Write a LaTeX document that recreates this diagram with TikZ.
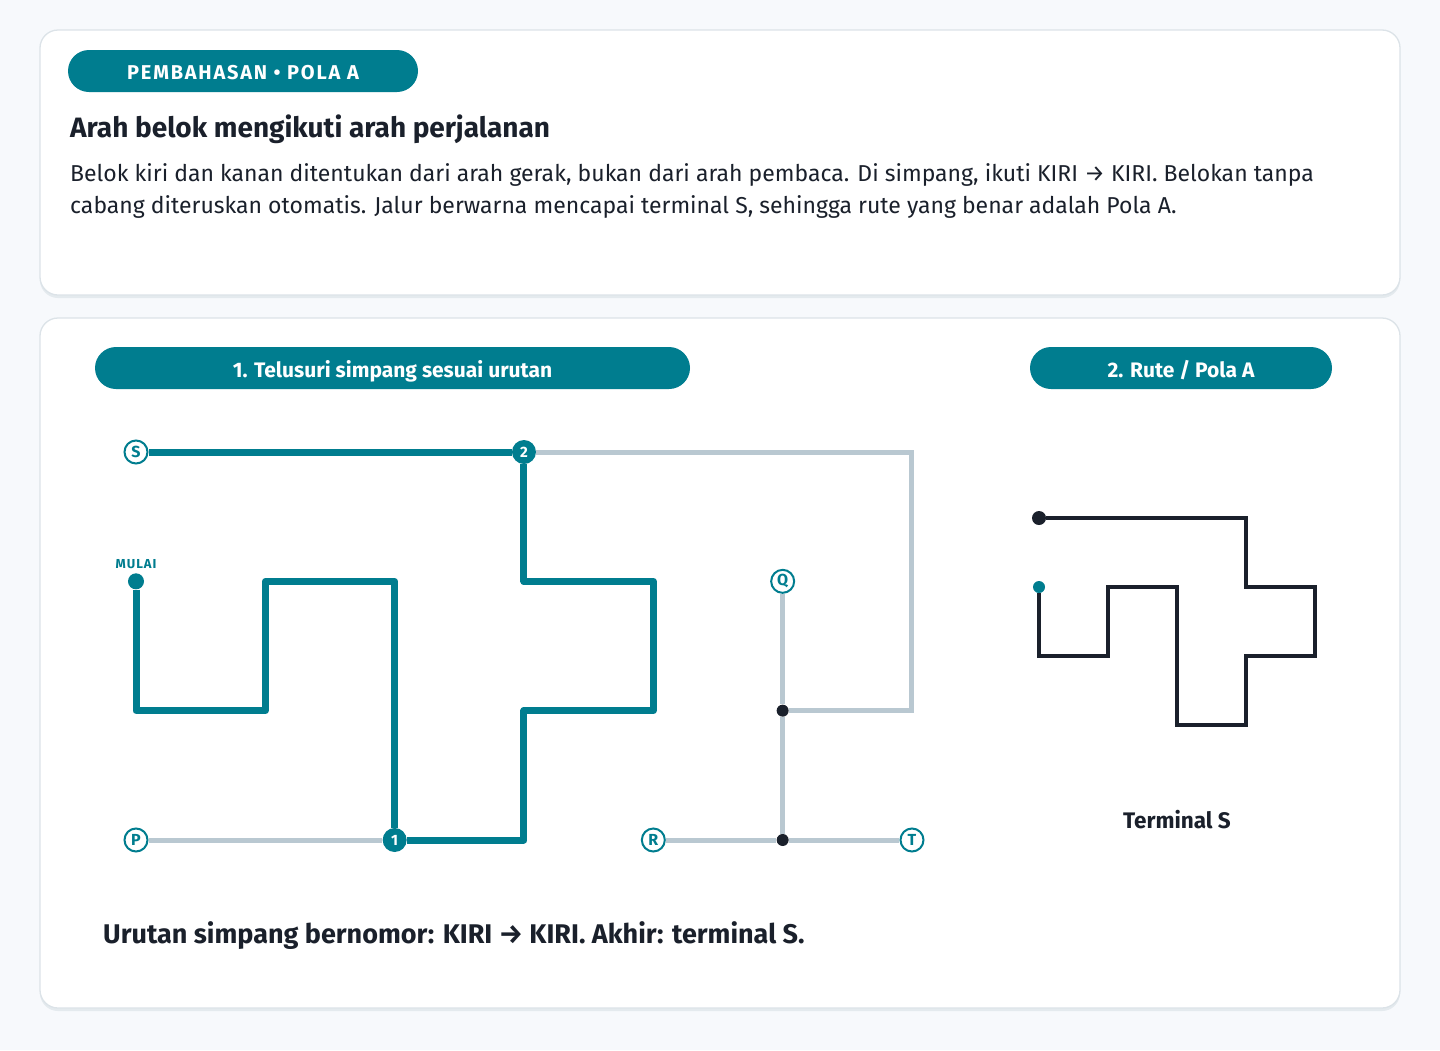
\documentclass[tikz,border=0pt]{standalone}
\usepackage{fontspec}
\setmainfont{Fira Sans}
\newfontfamily\badgefont[LetterSpace=9]{Fira Sans}
\newfontfamily\tagfont[LetterSpace=8]{Fira Sans}
\usepackage{tikz}
\usetikzlibrary{positioning}
\usepackage{xcolor}
\definecolor{routeteal}{HTML}{007D8F}
\definecolor{pathgray}{HTML}{B9C8D1}
\definecolor{inkdark}{HTML}{1A202B}
\definecolor{pagebg}{HTML}{F7F9FC}
\definecolor{cardline}{HTML}{DCE3E8}
\definecolor{cardshade}{HTML}{E4EAEE}

\begin{document}
\begin{tikzpicture}[x=1pt,y=-1pt,
  card/.style={draw=cardline,line width=1.3pt,fill=white,rounded corners=18pt},
  shade/.style={fill=cardshade,rounded corners=18pt},
  pill/.style={fill=routeteal,text=white,rounded corners=21pt,minimum height=42pt,inner sep=0pt,text height=19.5pt,text depth=0pt,font=\bfseries\fontsize{21}{21}\selectfont},
  prose/.style={anchor=base west,inner sep=0pt,text=inkdark},
  term/.style={circle,draw=routeteal,line width=2pt,fill=white,text=routeteal,inner sep=0pt,minimum size=23pt,font=\bfseries\fontsize{16}{16}\selectfont},
  junc/.style={circle,fill=routeteal,text=white,inner sep=0pt,minimum size=24pt,font=\bfseries\fontsize{15}{15}\selectfont},
  joint/.style={circle,fill=inkdark,inner sep=0pt,minimum size=12pt},
  route/.style={routeteal,line width=7pt,line join=round},
  spare/.style={pathgray,line width=5pt},
  mini/.style={inkdark,line width=3.2pt,line join=miter}]
\fill[pagebg] (0,0) rectangle (1440,1050);
\useasboundingbox (0,0) rectangle (1440,1050);
\fill[shade] (40,33) rectangle (1400,298);
\draw[card] (40,30) rectangle (1400,295);
\fill[shade] (40,321) rectangle (1400,1011);
\draw[card] (40,318) rectangle (1400,1008);

\node[pill,minimum width=350pt,text height=17.8pt,font=\badgefont\bfseries\fontsize{20}{20}\selectfont] (badge) at (243,71) {PEMBAHASAN • POLA A};
\node[prose,font=\bfseries\fontsize{28}{28}\selectfont] (title) at (70,137) {Arah belok mengikuti arah perjalanan};
\node[prose,font=\fontsize{23}{23}\selectfont] (line1) at (70,181) {Belok kiri dan kanan ditentukan dari arah gerak, bukan dari arah pembaca. Di simpang, ikuti KIRI → KIRI. Belokan tanpa};
\node[prose,font=\fontsize{23}{23}\selectfont] (line2) at (70,213) {cabang diteruskan otomatis. Jalur berwarna mencapai terminal S, sehingga rute yang benar adalah Pola A.};

\node[pill,minimum width=595pt] (step1) at (392.5,368) {1. Telusuri simpang sesuai urutan};
\node[pill,minimum width=302pt] (step2) at (1181,368) {2. Rute / Pola A};

\foreach \i in {0,...,6}
  \foreach \j in {0,...,3}
    \coordinate (g\i\j) at ({136+129.33*\i},{452+129.33*\j});
\foreach \i in {0,...,4}
  \foreach \j in {0,...,3}
    \coordinate (m\i\j) at ({1039+69*\i},{518+69*\j});

\node[term] (S) at (g00) {S};
\node[term] (P) at (g03) {P};
\node[term] (R) at (g43) {R};
\node[term] (T) at (g63) {T};
\node[term] (Q) at (g51) {Q};
\node[junc] (j1) at (g23) {1};
\node[junc] (j2) at (g30) {2};
\node[circle,fill=routeteal,inner sep=0pt,minimum size=16pt] (start) at (g01) {};
\node[above=4pt of start,inner sep=0pt,text=routeteal,font=\tagfont\bfseries\fontsize{13}{13}\selectfont] (mulai) {MULAI};
\node[joint] (d1) at (g52) {};
\node[joint] (d2) at (g53) {};

\draw[spare] (P) -- (j1);
\draw[spare] (j2) -- (g60) -- (g62) -- (d1);
\draw[spare] (Q) -- (d1) -- (d2);
\draw[spare] (R) -- (d2) -- (T);
\draw[route] (start) -- (g02) -- (g12) -- (g11) -- (g21) -- (j1);
\draw[route] (j1) -- (g33) -- (g32) -- (g42) -- (g41) -- (g31) -- (j2);
\draw[route] (j2) -- (S);

\node[circle,fill=inkdark,inner sep=0pt,minimum size=14pt] (mS) at (m00) {};
\node[circle,fill=routeteal,inner sep=0pt,minimum size=12pt] (mM) at (m01) {};
\draw[mini] (mS) -- (m30) -- (m31) -- (m41) -- (m42) -- (m32) -- (m33) -- (m23) -- (m21) -- (m11) -- (m12) -- (m02) -- (mM);
\node[text=inkdark,font=\bfseries\fontsize{22.5}{22.5}\selectfont] (goal) at (1177,820) {Terminal S};

\node[prose,font=\bfseries\fontsize{27}{27}\selectfont] (summary) at (103,943) {Urutan simpang bernomor: KIRI → KIRI. Akhir: terminal S.};
\end{tikzpicture}
\end{document}
